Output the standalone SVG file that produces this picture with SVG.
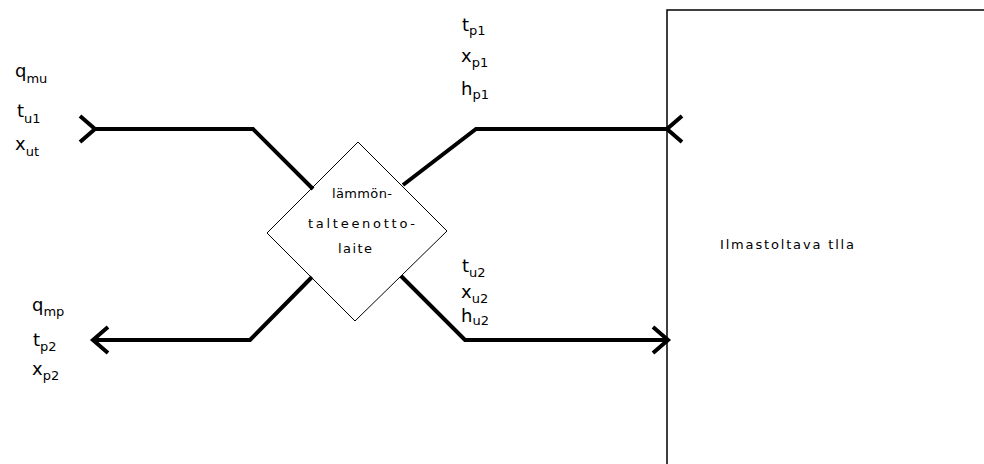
<svg xmlns="http://www.w3.org/2000/svg" width="984" height="464" viewBox="0 0 984 464">
  <style>
    .flow { fill: none; stroke: #000; stroke-width: 4; stroke-linejoin: miter; }
    .head { fill: none; stroke: #000; stroke-width: 4; stroke-linejoin: miter; }
    .outline { fill: #fff; stroke: #000; stroke-width: 1; }
    .wall { fill: none; stroke: #000; stroke-width: 1.5; }
    .lbl { font-family: "DejaVu Sans", "Liberation Sans", sans-serif; font-size: 18px; fill: #000; }
    .sub { font-size: 13px; }
    .node-txt { font-family: "DejaVu Sans", "Liberation Sans", sans-serif; font-size: 13px; fill: #000; }
  </style>
  <defs>
    <!-- open chevron, tip at the origin, pointing along +x -->
    <path id="chev" d="M-15,-13 L0,0 L-15,13"/>
  </defs>

  <rect width="984" height="464" fill="#fff"/>

  <!-- room to be air-conditioned -->
  <g id="room">
    <path class="wall" d="M667,470 V10 H990"/>
    <text class="node-txt" x="720" y="249" textLength="134" lengthAdjust="spacing">Ilmastoltava tlla</text>
  </g>

  <!-- heat recovery unit -->
  <g id="recovery">
    <polygon class="outline" points="358,142 447,231 355,321 267,233"/>
    <text class="node-txt" x="332" y="198" textLength="60" lengthAdjust="spacing">lämmön-</text>
    <text class="node-txt" x="308" y="228" textLength="107" lengthAdjust="spacing">talteenotto-</text>
    <text class="node-txt" x="338" y="253" textLength="34" lengthAdjust="spacing">laite</text>
  </g>

  <!-- air streams -->
  <g id="connectors">
    <path class="flow" d="M95,129 H253 L313,189"/>
    <path class="flow" d="M403,185 L476,129 H667"/>
    <path class="flow" d="M312,277 L250,340 H93"/>
    <path class="flow" d="M401,276 L465,340 H668"/>
    <use href="#chev" class="head" transform="translate(95,129)"/>
    <use href="#chev" class="head" transform="translate(667,129) rotate(180)"/>
    <use href="#chev" class="head" transform="translate(93,340) rotate(180)"/>
    <use href="#chev" class="head" transform="translate(668,340)"/>
  </g>

  <!-- stream state labels -->
  <g id="labels-in">
    <text class="lbl" x="15" y="77">q<tspan class="sub" dy="6">mu</tspan></text>
    <text class="lbl" x="17" y="117">t<tspan class="sub" dy="6">u1</tspan></text>
    <text class="lbl" x="15" y="150">x<tspan class="sub" dy="6">ut</tspan></text>
  </g>
  <g id="labels-out">
    <text class="lbl" x="32" y="311">q<tspan class="sub" dy="5">mp</tspan></text>
    <text class="lbl" x="33" y="346">t<tspan class="sub" dy="5">p2</tspan></text>
    <text class="lbl" x="32" y="375">x<tspan class="sub" dy="5">p2</tspan></text>
  </g>
  <g id="labels-supply">
    <text class="lbl" x="462" y="31">t<tspan class="sub" dy="4">p1</tspan></text>
    <text class="lbl" x="461" y="62">x<tspan class="sub" dy="5">p1</tspan></text>
    <text class="lbl" x="461" y="95">h<tspan class="sub" dy="4">p1</tspan></text>
  </g>
  <g id="labels-exhaust">
    <text class="lbl" x="462" y="272">t<tspan class="sub" dy="5">u2</tspan></text>
    <text class="lbl" x="461" y="298">x<tspan class="sub" dy="5">u2</tspan></text>
    <text class="lbl" x="461" y="322">h<tspan class="sub" dy="3">u2</tspan></text>
  </g>
</svg>
